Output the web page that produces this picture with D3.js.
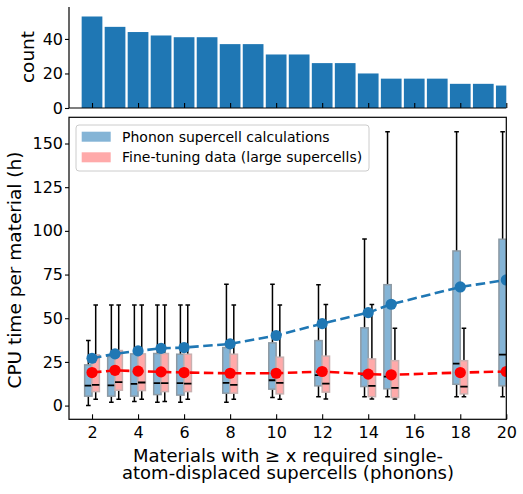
<!DOCTYPE html>
<html><head><meta charset="utf-8">
<script src="https://cdn.jsdelivr.net/npm/d3@7"></script>
<style>body{margin:0;background:#fff}svg{display:block;font-family:"DejaVu Sans",sans-serif}</style>
</head><body><svg id="c" width="523" height="494"></svg>
<script>
// ---- data ----
const histX = [2,3,4,5,6,7,8,9,10,11,12,13,14,15,16,17,18,19,20];
const histCount = [53,47,44,42,41,41,37,37,31,31,26,26,20,17,17,17,14,14,13];
const positions = [2,3,4,5,6,8,10,12,14,15,18,20];
// [whisker low, q1, median, q3, whisker high]
const phononStats = [
  [0,5.4,11.4,23.3,37.2],[1.9,5.4,11.6,28,57.6],[2.3,5.4,12.4,29.6,57.6],[1.9,6.3,12.8,29.8,57.6],
  [1.9,6,12.8,29.4,57.6],[1.9,7.1,13,33.2,69.4],[4.6,9.4,14.5,35.9,69.4],[5.1,11.3,17.4,37.2,69.2],
  [5.1,10.9,17.7,44.5,95.4],[5.1,9.6,16.6,69.2,156.8],[5.1,12.2,24,88.5,156.8],[5.1,11.3,29.2,95.2,156.8]];
const phononMean = [27.1,29.6,31.3,32.8,33.2,35.3,40.1,46.9,53.2,58,67.9,71.9];
const ftStats = [
  [3.6,8,11.8,29,57.6],[3.6,8.8,13.4,31.5,57.6],[3.6,8.6,13.2,29.6,57.6],[2.3,8,12.8,29.8,57.6],
  [3.6,8,12.6,29.4,57.6],[3.6,7.1,11.8,29.4,57.6],[3.6,6.7,13,27.7,57.6],[3.8,7.7,12.6,28.3,57.8],
  [3.8,5.1,11.3,26.7,57.8],[3.8,4.6,10.1,25.7,44.3],[5.1,6.7,10.9,25.7,44.3],[5.1,6.7,10.9,25.7,44.3]];
const ftMean = [18.9,20.2,19.7,19.3,18.9,18.5,18.5,19.5,18,17.6,18.9,19.5];
const xTicks = [2,4,6,8,10,12,14,16,18,20];
const yTicksTop = [0,20,40];
const yTicksBot = [0,25,50,75,100,125,150];
const legendLabels = ["Phonon supercell calculations","Fine-tuning data (large supercells)"];

const svg = d3.select("#c");
const L = 69, R = 506.3;
const x = d3.scaleLinear().domain([1,20]).range([L,R]);
const yTop = d3.scaleLinear().domain([0,58.5]).range([108,7]);
const yBot = d3.scaleLinear().domain([-7.85,165]).range([419.3,117.3]);
const blue = "#1f77b4", red = "#ff0000";
const blueFill = "rgb(132,180,214)", redFill = "rgb(255,170,170)";

// ---- top histogram ----
const defs = svg.append("defs");
defs.append("clipPath").attr("id","clipT").append("rect").attr("x",L).attr("y",0).attr("width",R-L).attr("height",110);
const gT = svg.append("g").attr("clip-path","url(#clipT)");
gT.selectAll("rect").data(histX).join("rect")
  .attr("x", (d)=>x(d-0.45)).attr("width", x(1.9)-x(1))
  .attr("y", (d,i)=>yTop(histCount[i])).attr("height", (d,i)=>yTop(0)-yTop(histCount[i]))
  .attr("fill", blue);
const axT = svg.append("g");
axT.append("line").attr("x1",L).attr("x2",L).attr("y1",7).attr("y2",108).attr("stroke","#000").attr("stroke-width",1.2);
axT.append("line").attr("x1",L).attr("x2",R).attr("y1",108).attr("y2",108).attr("stroke","#000").attr("stroke-width",1.2);
const gyT = svg.append("g").attr("transform",`translate(${L},0)`)
  .call(d3.axisLeft(yTop).tickValues(yTicksTop).tickSize(4).tickPadding(2));
const gxT = svg.append("g").attr("transform",`translate(0,108)`)
  .call(d3.axisBottom(x).tickValues(xTicks).tickSize(-5).tickFormat(""));
[gyT,gxT].forEach(g=>{g.select(".domain").remove();g.selectAll("line").attr("stroke","#000").attr("stroke-width",1.1);
  g.selectAll("text").attr("font-size",16).attr("font-family","DejaVu Sans").attr("fill","#000");});
svg.append("text").attr("transform","translate(34,57) rotate(-90)").attr("text-anchor","middle")
  .attr("font-size",18.5).text("count");

// ---- bottom box plot ----
defs.append("clipPath").attr("id","clipB").append("rect").attr("x",L).attr("y",117.3).attr("width",R-L).attr("height",302);
const gB = svg.append("g").attr("clip-path","url(#clipB)");
const off = 0.16, bw = 0.32, cw = 0.2;
function drawBoxes(stats, sign, fill, edge){
  const g = gB.append("g");
  stats.forEach((s,i)=>{
    const c = positions[i] + sign*off;
    g.append("line").attr("x1",x(c)).attr("x2",x(c)).attr("y1",yBot(s[0])).attr("y2",yBot(s[1])).attr("stroke","#000").attr("stroke-width",1.5);
    g.append("line").attr("x1",x(c)).attr("x2",x(c)).attr("y1",yBot(s[3])).attr("y2",yBot(s[4])).attr("stroke","#000").attr("stroke-width",1.5);
    [s[0],s[4]].forEach(v=>g.append("line").attr("x1",x(c-cw/2)).attr("x2",x(c+cw/2)).attr("y1",yBot(v)).attr("y2",yBot(v)).attr("stroke","#000").attr("stroke-width",1.5));
    g.append("rect").attr("x",x(c-bw/2)).attr("width",x(bw)-x(0)).attr("y",yBot(s[3])).attr("height",yBot(s[1])-yBot(s[3]))
      .attr("fill",fill).attr("stroke",edge).attr("stroke-width",1.5);
    g.append("line").attr("x1",x(c-bw/2)).attr("x2",x(c+bw/2)).attr("y1",yBot(s[2])).attr("y2",yBot(s[2])).attr("stroke","#000").attr("stroke-width",1.8);
  });
}
drawBoxes(phononStats,-1,blueFill,"#8d9aa4");
drawBoxes(ftStats,1,redFill,"#c9b0b0");
function drawMean(vals, col){
  const line = d3.line().x((d,i)=>x(positions[i])).y(d=>yBot(d));
  gB.append("path").attr("d",line(vals)).attr("fill","none").attr("stroke",col).attr("stroke-width",2.6).attr("stroke-dasharray","9.5,4.5");
  gB.selectAll(null).data(vals).join("circle").attr("cx",(d,i)=>x(positions[i])).attr("cy",d=>yBot(d)).attr("r",5.6).attr("fill",col);
}
drawMean(phononMean, blue);
drawMean(ftMean, red);

svg.append("rect").attr("x",L).attr("y",117.3).attr("width",R-L).attr("height",302).attr("fill","none").attr("stroke","#000").attr("stroke-width",1.2);
const gyB = svg.append("g").attr("transform",`translate(${L},0)`)
  .call(d3.axisLeft(yBot).tickValues(yTicksBot).tickSize(4).tickPadding(2));
const gxB = svg.append("g").attr("transform",`translate(0,419.3)`)
  .call(d3.axisBottom(x).tickValues(xTicks).tickSize(-5).tickPadding(0));
gxB.selectAll("text").attr("dy",null).attr("y",19);
[gyB,gxB].forEach(g=>{g.select(".domain").remove();g.selectAll("line").attr("stroke","#000").attr("stroke-width",1.1);
  g.selectAll("text").attr("font-size",16).attr("font-family","DejaVu Sans").attr("fill","#000");});

// legend
const lg = svg.append("g");
lg.append("rect").attr("x",76).attr("y",125).attr("width",293).attr("height",46).attr("rx",3)
  .attr("fill","rgba(255,255,255,0.8)").attr("stroke","#cccccc").attr("stroke-width",1);
[blueFill, redFill].forEach((c,i)=>{
  const cy = 136.7 + i*20.6;
  lg.append("rect").attr("x",81.7).attr("y",cy-5).attr("width",29).attr("height",10).attr("fill",c);
  lg.append("text").attr("x",122).attr("y",cy).attr("dominant-baseline","central").attr("font-size",14).text(legendLabels[i]);
});

// axis labels
svg.append("text").attr("transform","translate(21.3,270) rotate(-90)").attr("text-anchor","middle")
  .attr("font-size",18.5).text("CPU time per material (h)");
svg.append("text").attr("text-anchor","middle").attr("font-size",18).attr("x",288).attr("y",461.8)
  .text("Materials with \u2265 x required single-");
svg.append("text").attr("text-anchor","middle").attr("font-size",18).attr("x",288).attr("y",479)
  .text("atom-displaced supercells (phonons)");
</script></body></html>
